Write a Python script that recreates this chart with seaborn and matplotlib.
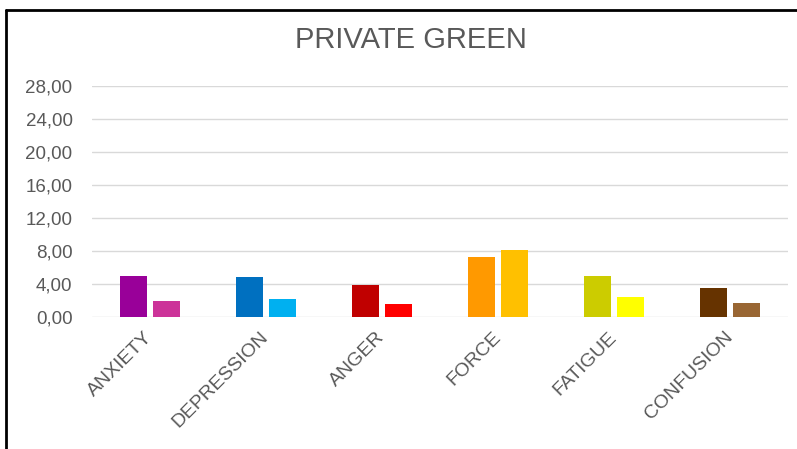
import pandas as pd
import matplotlib.pyplot as plt
import seaborn as sb
from matplotlib.lines import Line2D

# data
categories = ["ANXIETY", "DEPRESSION", "ANGER", "FORCE", "FATIGUE", "CONFUSION"]
serie1 = [4.90, 4.75, 3.78, 7.23, 4.95, 3.49]
serie2 = [1.83, 2.07, 1.46, 8.12, 2.35, 1.59]
culori1 = ["#990099", "#0070C0", "#C00000", "#FF9900", "#CCCC00", "#663300"]
culori2 = ["#CC3399", "#00B0F0", "#FF0000", "#FFC000", "#FFFF00", "#996633"]
y_ticks = [0, 4, 8, 12, 16, 20, 24, 28]

df = pd.DataFrame({
    "Categorie": categories * 2,
    "Valoare": serie1 + serie2,
    "Serie": ["S1"] * len(categories) + ["S2"] * len(categories),
})

sb.set_style("white")
plt.rcParams["font.family"] = ["Liberation Sans", "DejaVu Sans"]
text_color = "#595959"

fig = plt.figure(figsize=(7.97, 4.49), dpi=100)
ax = fig.add_axes([0.1154, 0.2951, 0.8733, 0.5134])

sb.barplot(data=df, x="Categorie", y="Valoare", hue="Serie", order=categories,
           width=0.56, gap=0.17, legend=False, ax=ax)

# each category has its own pair of colours
for container, culori in zip(ax.containers, [culori1, culori2]):
    for bar, c in zip(container, culori):
        bar.set_facecolor(c)
        bar.set_edgecolor("none")

ax.set_ylim(0, 28)
ax.set_xlim(-0.5, len(categories) - 0.5)
ax.set_yticks(y_ticks)
ax.set_yticklabels([f"{v:.2f}".replace(".", ",") for v in y_ticks])
ax.yaxis.grid(True, color="#D9D9D9", linewidth=1.0)
ax.set_axisbelow(True)
for s in ax.spines.values():
    s.set_visible(False)
ax.tick_params(axis="y", length=0, pad=14, labelsize=13.5, labelcolor=text_color)
ax.tick_params(axis="x", length=0, pad=13, labelsize=14, labelcolor=text_color)
plt.setp(ax.get_xticklabels(), rotation=45, ha="right", va="center",
         rotation_mode="anchor")
ax.set_xlabel("")
ax.set_ylabel("")

fig.text(0.515, 0.91, "PRIVATE GREEN", ha="center", va="center",
         fontsize=21, color=text_color)

# frame of the chart (only left and top edges visible)
fig.add_artist(Line2D([0.008, 0.008], [0, 0.978], transform=fig.transFigure,
                      color="black", linewidth=2))
fig.add_artist(Line2D([0.008, 1.0], [0.978, 0.978], transform=fig.transFigure,
                      color="black", linewidth=2))

fig.savefig("out.png", dpi=100)
